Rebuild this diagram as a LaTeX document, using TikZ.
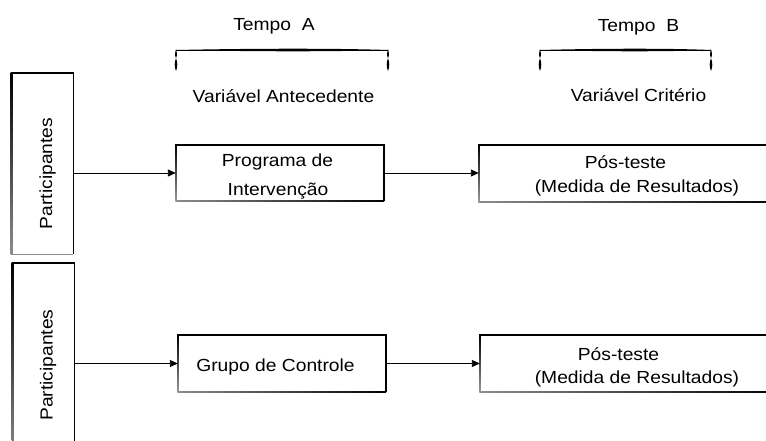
\documentclass[tikz,border=0pt]{standalone}
\usepackage{fontspec}
\setmainfont[FakeStretch=1.1]{Liberation Sans}
\usetikzlibrary{arrows.meta,calc}
\newcommand\gradframe[1]{%
  \shade[left color=black!45, right color=black] ($(#1.south west)+(0,-0.7)$) rectangle ($(#1.south east)+(0,0.7)$);
  \shade[top color=black, bottom color=black!40] ($(#1.north west)+(-0.5,0)$) rectangle ($(#1.south west)+(0.5,0)$);
  \draw[line width=2pt, line cap=rect] (#1.north west) -- (#1.north east);
  \draw[line width=2pt] (#1.north east) -- (#1.south east);
}
\newcommand\partframe[1]{%
  \draw[black!45, line width=0.8pt] (#1.south west) -- (#1.south east);
  \shade[top color=black, bottom color=black!45] ($(#1.north west)+(-1.1,0)$) rectangle ($(#1.south west)+(1.1,0)$);
  \draw[line width=2pt, line cap=rect] (#1.north west) -- (#1.north east);
  \draw[line width=1.1pt] (#1.north east) -- (#1.south east);
}
\begin{document}
\begin{tikzpicture}[x=1pt,y=-1pt,
  txt/.style={font=\fontsize{17.5}{21}\selectfont, inner sep=0pt, anchor=base},
  bx/.style={draw=none, inner sep=0pt},
  arr/.style={line width=0.9pt, -{Triangle[length=8pt,width=7pt]}},
  tick/.pic={\fill (0,-1) .. controls (1.3,2) and (1.3,5) .. (0,8.5) .. controls (1.7,11.5) and (1.7,17.5) .. (0,21) .. controls (-1.7,17.5) and (-1.7,11.5) .. (0,8.5) .. controls (-1.3,5) and (-1.3,2) .. (0,-1) -- cycle;}]
\clip (0,0) rectangle (766,440);
\fill[white] (0,0) rectangle (766,440);

% boxes
\node[bx, minimum width=61, minimum height=181] (p1) at (42.5,163.5) {};
\node[bx, minimum width=61, minimum height=200] (p2) at (43.5,363) {};
\node[bx, minimum width=208, minimum height=56] (prog) at (280,173) {};
\node[bx, minimum width=300, minimum height=57] (pos1) at (629,173.5) {};
\node[bx, minimum width=208, minimum height=57] (grp) at (282,363.5) {};
\node[bx, minimum width=300, minimum height=57] (pos2) at (630,363.5) {};

\partframe{p1}
\partframe{p2}
\gradframe{prog}
\gradframe{pos1}
\gradframe{grp}
\gradframe{pos2}

% texts
\node[txt, rotate=90] (pt1) at (52,173.5) {Participantes};
\node[txt, rotate=90] (pt2) at (52.5,365) {Participantes};
\node[txt] (prog1) at (277.5,166) {Programa de};
\node[txt] (prog2) at (278,195) {Intervenção};
\node[txt] (pa1) at (625.5,168.5) {Pós-teste};
\node[txt] (pa2) at (637,192) {(Medida de Resultados)};
\node[txt] (grpt) at (275.5,371.7) {Grupo de Controle};
\node[txt] (pb1) at (618.5,360) {Pós-teste};
\node[txt] (pb2) at (637,383) {(Medida de Resultados)};

\node[txt] (tA) at (274,30) {Tempo\ \ A};
\node[txt] (vA) at (283.5,102) {Variável Antecedente};
\node[txt] (tB) at (638.5,31) {Tempo\ \ B};
\node[txt] (vB) at (638.5,101) {Variável Critério};

% braces
\coordinate (a1) at (176,50);
\coordinate (a2) at (388,50);
\coordinate (b1) at (540,50);
\coordinate (b2) at (711,50);
\draw[line width=0.7pt] (a1) -- (a2);
\fill (a1) .. controls +(80,-1.7) and +(-50,-1.7) .. (a2) .. controls +(-50,1.7) and +(80,1.7) .. (a1);
\draw[line width=0.7pt] (b1) -- (b2);
\fill (b1) .. controls +(65,-1.7) and +(-40,-1.7) .. (b2) .. controls +(-40,1.7) and +(65,1.7) .. (b1);
\pic at (a1) {tick};
\pic at (a2) {tick};
\pic at (b1) {tick};
\pic at (b2) {tick};

% arrows
\draw[arr] (p1.east |- prog.west) -- (prog.west);
\draw[arr] (prog.east) -- (pos1.west |- prog.east);
\draw[arr] (p2.east |- grp.west) -- (grp.west);
\draw[arr] (grp.east) -- (pos2.west |- grp.east);
\end{tikzpicture}
\end{document}
